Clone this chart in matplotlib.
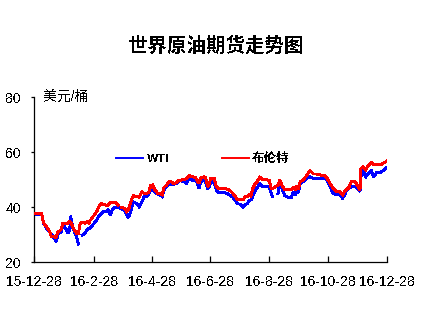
import numpy as np
import pandas as pd
import matplotlib
matplotlib.use("Agg")
import matplotlib.pyplot as plt

plt.rcParams["font.family"] = ["Liberation Sans", "Noto Sans CJK SC"]
plt.rcParams["text.antialiased"] = False

# 日期与价格（美元/桶），缺失值为休市
dates = [
    "2015-12-28", "2015-12-31", "2016-01-05", "2016-01-07", "2016-01-10", "2016-01-13",
    "2016-01-15", "2016-01-17", "2016-01-20", "2016-01-22", "2016-01-25", "2016-01-27",
    "2016-01-30", "2016-02-01", "2016-02-03", "2016-02-04", "2016-02-06", "2016-02-08",
    "2016-02-10", "2016-02-12", "2016-02-14", "2016-02-16", "2016-02-19", "2016-02-21",
    "2016-02-23", "2016-02-24", "2016-02-27", "2016-03-02", "2016-03-05", "2016-03-07",
    "2016-03-09", "2016-03-12", "2016-03-14", "2016-03-16", "2016-03-19", "2016-03-22",
    "2016-03-24", "2016-03-26", "2016-03-28", "2016-03-31", "2016-04-02", "2016-04-04",
    "2016-04-06", "2016-04-09", "2016-04-12", "2016-04-15", "2016-04-18", "2016-04-20",
    "2016-04-23", "2016-04-25", "2016-04-27", "2016-04-29", "2016-05-01", "2016-05-04",
    "2016-05-06", "2016-05-09", "2016-05-11", "2016-05-13", "2016-05-16", "2016-05-18",
    "2016-05-21", "2016-05-24", "2016-05-26", "2016-05-29", "2016-06-01", "2016-06-03",
    "2016-06-06", "2016-06-09", "2016-06-12", "2016-06-14", "2016-06-16", "2016-06-18",
    "2016-06-21", "2016-06-23", "2016-06-25", "2016-06-27", "2016-06-28", "2016-06-30",
    "2016-07-02", "2016-07-04", "2016-07-06", "2016-07-10", "2016-07-13", "2016-07-16",
    "2016-07-19", "2016-07-21", "2016-07-24", "2016-07-26", "2016-07-29", "2016-08-01",
    "2016-08-03", "2016-08-05", "2016-08-07", "2016-08-09", "2016-08-11", "2016-08-13",
    "2016-08-15", "2016-08-18", "2016-08-21", "2016-08-23", "2016-08-25", "2016-08-28",
    "2016-08-30", "2016-08-31", "2016-09-02", "2016-09-06", "2016-09-08", "2016-09-10",
    "2016-09-13", "2016-09-16", "2016-09-20", "2016-09-22", "2016-09-24", "2016-09-25",
    "2016-09-27", "2016-09-29", "2016-10-02", "2016-10-06", "2016-10-09", "2016-10-13",
    "2016-10-16", "2016-10-20", "2016-10-24", "2016-10-27", "2016-10-30", "2016-11-02",
    "2016-11-06", "2016-11-09", "2016-11-12", "2016-11-14", "2016-11-16", "2016-11-18",
    "2016-11-21", "2016-11-25", "2016-11-28", "2016-11-30", "2016-12-01", "2016-12-03",
    "2016-12-06", "2016-12-09", "2016-12-12", "2016-12-14", "2016-12-17", "2016-12-21",
    "2016-12-24", "2016-12-28",
]

wti = [
    37.5, 37.3, 37.5, 34.1, 32.2, 31.0,
    30.2, 29.2, 27.4, 30.4, 30.8, 33.5,
    32.2, 30.4, 31.5, 36.7, 32.8, 31.0,
    29.2, 26.5, np.nan, 29.8, 30.4, 31.7,
    32.2, 32.2, 33.5, 35.3, 37.1, 37.7,
    38.3, 38.3, 38.9, 37.1, 39.5, 39.9,
    39.7, 39.7, 39.3, 38.6, 37.1, 36.2,
    38.0, 41.9, 41.3, 40.1, 41.9, 43.8,
    43.8, 44.8, 46.0, 46.2, 45.5, 44.8,
    44.5, 43.8, 46.4, 47.4, 48.2, 48.3,
    48.3, 48.6, 49.5, 49.5, 49.2, 48.6,
    50.3, 49.8, 49.8, 49.2, 46.8, 49.2,
    49.8, 49.2, 46.5, 47.5, 49.2, 49.2,
    48.8, 46.2, 45.4, 45.4, 45.2, 44.8,
    44.1, 43.6, 42.3, 41.2, 41.0, 39.9,
    41.0, 41.2, 42.4, 42.6, 44.0, 45.8,
    46.8, 48.4, 47.5, 47.6, 47.3, 47.4,
    45.0, 43.8, np.nan, 45.0, 49.0, 46.8,
    44.2, 43.6, 43.6, 45.6, 44.2, 46.2,
    45.2, 48.6, 49.2, 50.4, 51.0, 50.4,
    50.4, 50.4, 50.4, 49.8, 47.4, 45.0,
    44.4, 44.8, 43.2, 44.2, 46.2, 46.6,
    47.4, 47.4, 46.4, 45.6, 51.0, 53.4,
    51.0, 52.3, 53.2, 51.0, 52.4, 52.6,
    53.2, 54.4,
]

brent = [
    37.5, 37.5, 37.5, 34.1, 32.8, 31.2,
    29.2, 29.2, 29.0, 31.0, 31.7, 34.1,
    34.1, 34.1, 34.7, 34.5, 33.0, 31.5,
    30.4, 30.4, 34.1, 34.4, 34.1, 34.7,
    34.1, 35.0, 36.4, 38.3, 40.7, 41.3,
    40.9, 40.7, 40.7, 41.7, 41.7, 41.5,
    40.7, np.nan, 39.9, 39.5, 38.3, 39.0,
    41.5, 44.2, 43.8, 43.6, 45.6, 45.0,
    45.0, 45.3, 47.8, 48.0, 46.5, 45.0,
    45.0, 44.4, 47.2, 47.8, 49.2, 49.2,
    48.6, 48.8, 49.8, 49.8, 50.1, 50.3,
    51.4, 51.0, 50.8, 49.8, 48.6, 50.6,
    51.0, 50.6, 47.4, 48.5, 50.4, 50.4,
    50.4, 47.4, 46.8, 46.8, 46.8, 46.4,
    45.8, 45.0, 43.8, 42.6, 42.6, 42.6,
    43.8, 43.8, 44.6, 44.0, 46.8, 48.2,
    49.0, 50.9, 50.1, 50.1, 49.9, 49.7,
    46.8, 46.8, 47.0, 48.0, 49.8, 48.0,
    46.2, 46.2, 46.2, 47.4, 46.2, 47.6,
    46.6, 49.2, 49.8, 51.6, 53.2, 52.0,
    52.0, 51.6, 51.6, 50.4, 48.6, 46.8,
    45.6, 45.6, 44.4, 45.6, 46.4, 46.8,
    49.2, 49.2, 47.4, 46.2, 54.0, 54.6,
    53.6, 55.3, 56.2, 55.3, 55.3, 55.3,
    55.9, 56.7,
]

tick_dates = ["2015-12-28", "2016-02-28", "2016-04-28", "2016-06-28",
              "2016-08-28", "2016-10-28", "2016-12-28"]
tick_labels = ["15-12-28", "16-2-28", "16-4-28", "16-6-28",
               "16-8-28", "16-10-28", "16-12-28"]
y_ticks = [20, 40, 60, 80]

x = pd.to_datetime(dates)
ticks = pd.to_datetime(tick_dates)

fig = plt.figure(figsize=(4.26, 3.22), dpi=100)
ax = fig.add_axes([0.0798, 0.1863, 0.8286, 0.5124])

ax.plot(x, wti, color="#0000ff", lw=1.4, antialiased=False,
        solid_joinstyle="miter", label="WTI", zorder=2)
ax.plot(x, brent, color="#ff0000", lw=1.4, antialiased=False,
        solid_joinstyle="miter", label="布伦特", zorder=3)

ax.set_xlim(ticks[0], ticks[-1])
ax.set_ylim(20, 80)
ax.set_xticks(ticks)
ax.set_xticklabels(tick_labels)
ax.set_yticks(y_ticks)

for side in ("top", "right"):
    ax.spines[side].set_visible(False)
for side in ("left", "bottom"):
    ax.spines[side].set_linewidth(0.9)
    ax.spines[side].set_color("black")

ax.tick_params(axis="x", direction="in", length=4, width=0.9, pad=9,
               labelsize=10, colors="black")
ax.tick_params(axis="y", direction="out", length=2.5, width=0.9, pad=7,
               labelsize=10, colors="black")

ax.text(0.027, 1.0, "美元/桶", transform=ax.transAxes, fontsize=10,
        ha="left", va="center")

leg = ax.legend(loc="center left", bbox_to_anchor=(0.232, 0.624), ncol=2,
                frameon=False, borderpad=0, borderaxespad=0,
                handlelength=2.2, handletextpad=0.25, columnspacing=4.2,
                prop={"size": 9, "weight": "bold"})
wti_text = leg.get_texts()[0]
wti_text.set_fontsize(7.5)
wti_text.set_family("DejaVu Sans")
wti_text.set_fontweight("heavy")

fig.text(0.507, 0.857, "世界原油期货走势图", fontsize=14, fontweight="bold",
         ha="center", va="center")

fig.savefig("out.png", dpi=100, facecolor="white")
